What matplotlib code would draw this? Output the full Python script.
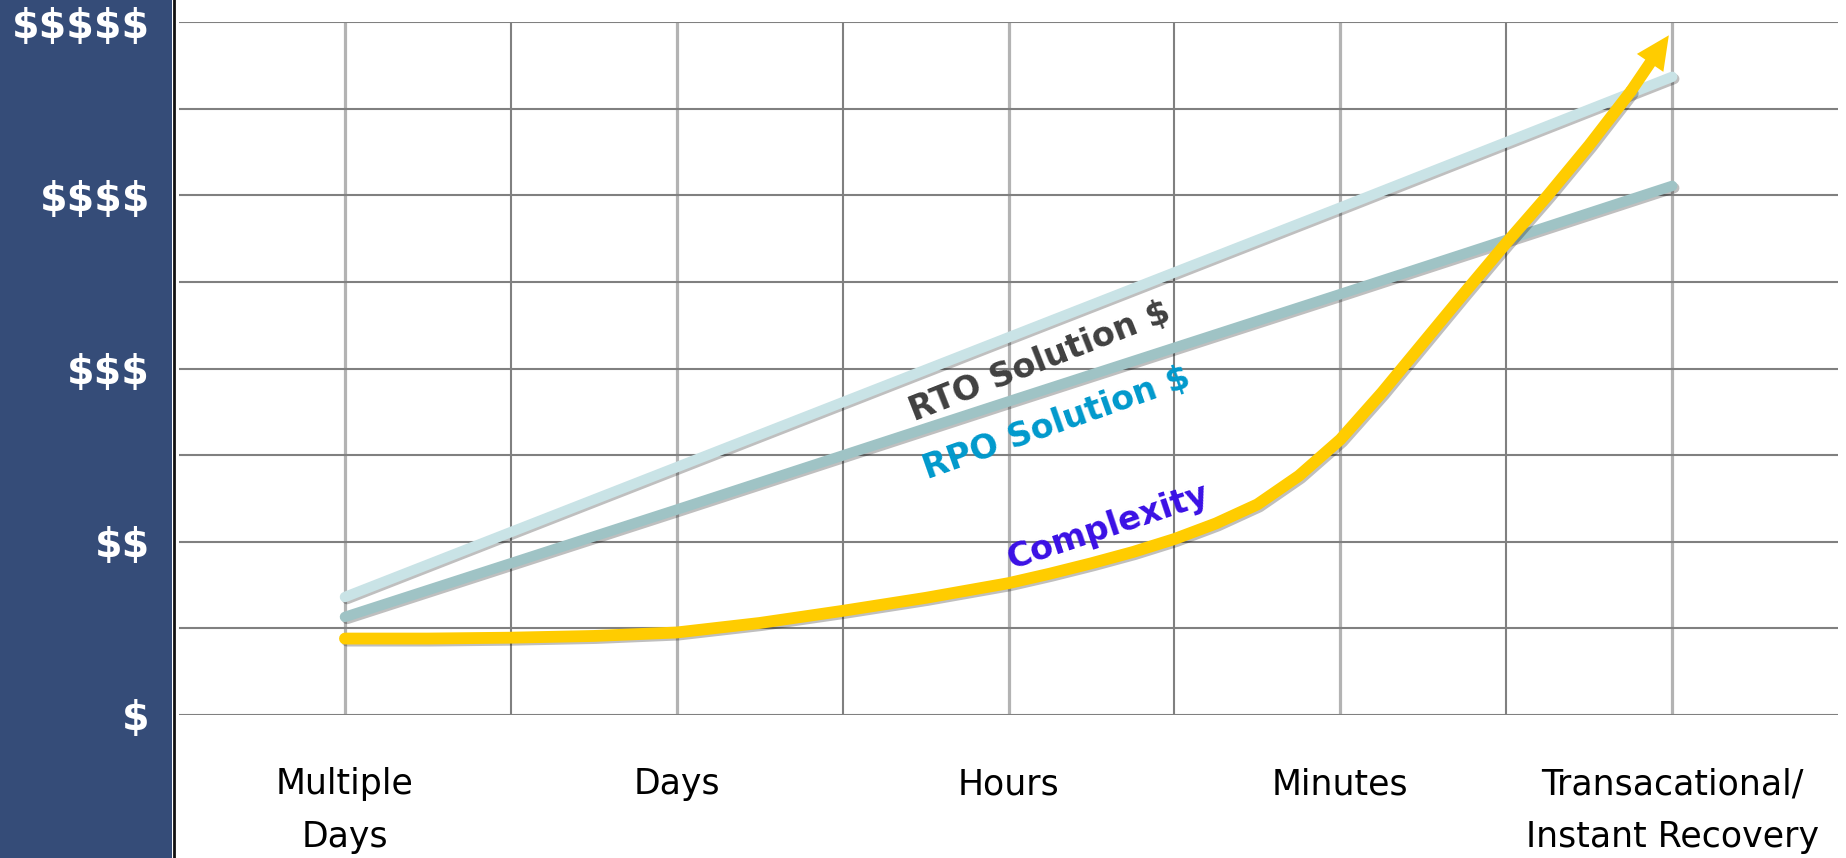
import numpy as np
import matplotlib
matplotlib.use("Agg")
import matplotlib.pyplot as plt
import matplotlib.patheffects as pe
from matplotlib.patches import Rectangle
from matplotlib.lines import Line2D

# data
categories = ["Multiple\nDays", "Days", "Hours", "Minutes", "Transacational/\nInstant Recovery"]
cost_labels = ["$", "$$", "$$$", "$$$$", "$$$$$"]
cost_levels = [0, 2, 4, 6, 8]

rto_cost = [1.36, 2.86, 4.36, 5.86, 7.37]
rpo_cost = [1.13, 2.37, 3.62, 4.86, 6.11]

complexity_x = [0, 0.25, 0.5, 0.75, 1.0, 1.25, 1.5, 1.75, 2.0, 2.125, 2.25, 2.375,
                2.5, 2.625, 2.75, 2.875, 3.0, 3.125, 3.25, 3.375, 3.5, 3.625,
                3.75, 3.875, 3.99]
complexity_y = [0.88, 0.88, 0.89, 0.91, 0.95, 1.06, 1.20, 1.35, 1.52, 1.63, 1.75, 1.88,
                2.03, 2.21, 2.43, 2.76, 3.18, 3.72, 4.30, 4.88, 5.45, 6.00,
                6.58, 7.20, 7.85]

fig = plt.figure(figsize=(18.46, 8.58), dpi=100)

# dark side panel behind the y labels
fig.add_artist(Rectangle((0, 0), 172 / 1846, 1, transform=fig.transFigure,
                         facecolor="#354c78", edgecolor="none", zorder=0))
fig.add_artist(Line2D([173.5 / 1846] * 2, [0, 1], transform=fig.transFigure,
                      color="#111111", lw=2, zorder=1))

ax = fig.add_axes([0.097, 0.167, 0.8987, 0.807])
ax.set_xlim(-0.5, 4.5)
ax.set_ylim(0, 8)
for s in ax.spines.values():
    s.set_visible(False)

x = np.arange(len(categories))
ax.set_xticks(x, categories)
ax.set_xticks(x[:-1] + 0.5, minor=True)
ax.set_yticks(cost_levels, [c.replace("$", r"\$") for c in cost_labels])
ax.set_yticks([1, 3, 5, 7], minor=True)
ax.tick_params(which="both", length=0)
ax.tick_params(axis="y", pad=21, labelsize=28.5, labelcolor="white")
ax.tick_params(axis="x", pad=38, labelsize=25)
for t in ax.get_yticklabels():
    t.set_fontweight("bold")
for t in ax.get_xticklabels():
    t.set_linespacing(1.7)

ax.set_axisbelow(True)
ax.grid(axis="y", which="both", color="#808080", lw=1.5)
ax.grid(axis="x", which="major", color="#b3b3b3", lw=2.3)
ax.grid(axis="x", which="minor", color="#808080", lw=1.5)

shadow = [pe.SimpleLineShadow(offset=(1.5, -1.5), alpha=0.25), pe.Normal()]
ax.plot(x, rto_cost, color="#c9e3e6", lw=7.5, solid_capstyle="round",
        path_effects=shadow, zorder=3)
ax.plot(x, rpo_cost, color="#9fc3c5", lw=7.5, solid_capstyle="round",
        path_effects=shadow, zorder=3)
ax.plot(complexity_x[:-1], complexity_y[:-1], color="#ffcc00", lw=8.5,
        solid_capstyle="round", solid_joinstyle="round", path_effects=shadow, zorder=4)
ax.annotate("", xy=(complexity_x[-1], complexity_y[-1]),
            xytext=(complexity_x[-2], complexity_y[-2]),
            arrowprops=dict(arrowstyle="simple,head_length=1.2,head_width=1.15,tail_width=0.42",
                            mutation_scale=20, fc="#ffcc00", ec="none",
                            shrinkA=0, shrinkB=0),
            zorder=4)

lbl = dict(fontsize=24, fontweight="bold", ha="center", va="center",
           rotation_mode="anchor", zorder=6)
ax.text(2.095, 4.08, "RTO Solution $", rotation=21.5, color="#404040", **lbl)
ax.text(2.146, 3.37, "RPO Solution $", rotation=19.5, color="#0099cc", **lbl)
ax.text(2.30, 2.17, "Complexity", rotation=18.5, color="#3a10e5", **lbl)

fig.savefig("out.png", dpi=100)
